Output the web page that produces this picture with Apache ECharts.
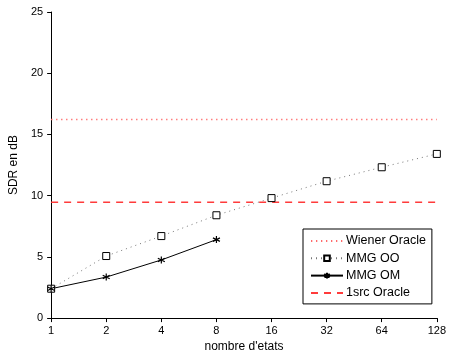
<!DOCTYPE html>
<html>
<head>
<meta charset="utf-8">
<script src="https://cdn.jsdelivr.net/npm/echarts@6/dist/echarts.min.js"></script>
<style>
html,body{margin:0;padding:0;background:#fff;}
#chart{width:449px;height:358px;}
</style>
</head>
<body>
<div id="chart"></div>
<script>
const states = [1, 2, 4, 8, 16, 32, 64, 128];
const mmgOO = [2.4, 5.07, 6.7, 8.4, 9.8, 11.18, 12.32, 13.41];
const mmgOM = [2.4, 3.35, 4.75, 6.41];
const wienerOracle = 16.22;
const oracle1src = 9.47;
const yTicks = [0, 5, 10, 15, 20, 25];

const FONT = 'Liberation Sans, Arial, Helvetica, sans-serif';
const asterisk = 'path://M5,0 L5,10 M0.7,2.5 L9.3,7.5 M0.7,7.5 L9.3,2.5';

const chart = echarts.init(document.getElementById('chart'), null, {renderer: 'canvas'});
const xFirst = states[0], xLast = states[states.length - 1];

chart.setOption({
  animation: false,
  backgroundColor: '#fff',
  grid: {left: 48, right: 9, top: 12, bottom: 39, containLabel: false},
  legend: {
    orient: 'vertical',
    left: 303, top: 229,
    padding: [5, 6, 4, 7],
    itemGap: 3.3,
    itemWidth: 32, itemHeight: 7,
    borderColor: '#000', borderWidth: 1,
    backgroundColor: '#fff',
    textStyle: {fontFamily: FONT, fontSize: 12.5, color: '#000', lineHeight: 14, padding: [0,0,0,-2]},
    data: [
      {name: 'Wiener Oracle', itemStyle: {opacity: 0}},
      {name: 'MMG OO'},
      {name: 'MMG OM'},
      {name: '1src Oracle', itemStyle: {opacity: 0}}
    ]
  },
  xAxis: {
    type: 'log', logBase: 2, min: xFirst, max: xLast, interval: 1,
    name: "nombre d'etats", nameLocation: 'middle', nameGap: 21,
    nameTextStyle: {fontFamily: FONT, fontSize: 12, color: '#000'},
    axisLine: {show: true, lineStyle: {color: '#000', width: 1}},
    axisTick: {show: true, length: 4, lineStyle: {color: '#000'}},
    minorTick: {show: false},
    splitLine: {show: false},
    axisLabel: {fontFamily: FONT, fontSize: 11, color: '#000', margin: 7,
      formatter: v => String(Math.round(v))}
  },
  yAxis: {
    type: 'value', min: yTicks[0], max: yTicks[yTicks.length - 1], interval: 5,
    name: 'SDR en dB', nameLocation: 'middle', nameGap: 30,
    nameTextStyle: {fontFamily: FONT, fontSize: 12, color: '#000'},
    axisLine: {show: true, lineStyle: {color: '#000', width: 1}},
    axisTick: {show: true, length: 4, lineStyle: {color: '#000'}},
    splitLine: {show: false},
    axisLabel: {fontFamily: FONT, fontSize: 11, color: '#000', margin: 8}
  },
  series: [
    {
      name: 'Wiener Oracle', type: 'line', symbol: 'none',
      data: [[xFirst, wienerOracle], [xLast, wienerOracle]],
      lineStyle: {color: '#ff6a6a', width: 1.3, type: [1.3, 3.7]},
      itemStyle: {color: '#ff6a6a'}
    },
    {
      name: 'MMG OO', type: 'line', symbol: 'rect', symbolSize: 7,
      data: mmgOO.map((v, i) => [states[i], v]),
      lineStyle: {color: '#777', width: 1, type: [1, 4]},
      itemStyle: {color: '#fff', borderColor: '#000', borderWidth: 1}
    },
    {
      name: 'MMG OM', type: 'line', symbol: asterisk, symbolSize: 7,
      data: mmgOM.map((v, i) => [states[i], v]),
      lineStyle: {color: '#000', width: 1},
      itemStyle: {color: '#000', borderColor: '#000', borderWidth: 1.2}
    },
    {
      name: '1src Oracle', type: 'line', symbol: 'none',
      data: [[xFirst, oracle1src], [xLast, oracle1src]],
      lineStyle: {color: '#ff3b3b', width: 1.5, type: [7, 6]},
      itemStyle: {color: '#ff3b3b'}
    }
  ]
});
</script>
</body>
</html>
